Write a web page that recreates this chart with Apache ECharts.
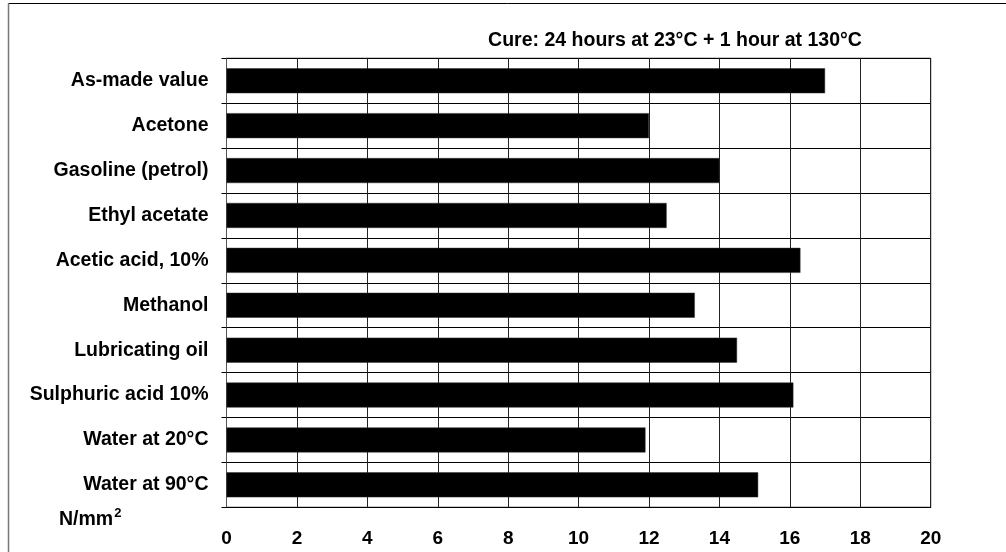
<!DOCTYPE html>
<html>
<head>
<meta charset="utf-8">
<script src="https://cdn.jsdelivr.net/npm/echarts@6/dist/echarts.min.js"></script>
<style>
html,body{margin:0;padding:0;background:#fff;}
#chart{width:1006px;height:552px;}
</style>
</head>
<body>
<div id="chart"></div>
<script>
const categories = ['As-made value','Acetone','Gasoline (petrol)','Ethyl acetate','Acetic acid, 10%','Methanol','Lubricating oil','Sulphuric acid 10%','Water at 20°C','Water at 90°C'];
const values = [17, 12, 14, 12.5, 16.3, 13.3, 14.5, 16.1, 11.9, 15.1];
const xTicks = [0, 2, 4, 6, 8, 10, 12, 14, 16, 18, 20];
const titleText = 'Cure: 24 hours at 23°C + 1 hour at 130°C';
const unitText = 'N/mm';

const FONT = 'Liberation Sans, Arial, sans-serif';
const chart = echarts.init(document.getElementById('chart'));
chart.setOption({
  animation: false,
  backgroundColor: '#fff',
  title: [{
    text: titleText,
    left: 670, top: 26, textAlign: 'center',
    textStyle: {fontFamily: FONT, fontWeight: 'bold', fontSize: 19.5, color: '#000'}
  }, {
    text: unitText + '{sup|2}',
    left: 54, top: 502,
    textStyle: {fontFamily: FONT, fontWeight: 'bold', fontSize: 19.5, color: '#000',
      rich: {sup: {fontFamily: FONT, fontWeight: 'bold', fontSize: 13, color: '#000', verticalAlign: 'top', padding: [0,0,12,1]}}}
  }],
  grid: {left: 226.5, right: 75.3, top: 58.3, bottom: 44.7, show: true, borderColor: '#000', borderWidth: 1},
  xAxis: {
    type: 'value', min: xTicks[0], max: xTicks[xTicks.length-1], interval: 2,
    axisLine: {show: true, lineStyle: {color: '#000'}},
    axisTick: {show: false},
    axisLabel: {margin: 22, fontFamily: FONT, fontWeight: 'bold', fontSize: 19, color: '#000'},
    splitLine: {show: true, lineStyle: {color: '#222', width: 1}}
  },
  yAxis: {
    type: 'category', data: categories, inverse: true,
    axisLine: {show: true, lineStyle: {color: '#555'}},
    axisTick: {show: true, length: 5, alignWithLabel: false, lineStyle: {color: '#000'}},
    axisLabel: {margin: 18, fontFamily: FONT, fontWeight: 'bold', fontSize: 19.5, color: '#000'},
    splitLine: {show: true, lineStyle: {color: '#000', width: 1}}
  },
  series: [{
    type: 'bar', data: values, barWidth: 25,
    itemStyle: {color: '#000', borderColor: '#333', borderWidth: 0.5}
  }],
  graphic: [
    {type: 'line', shape: {x1: 8.5, y1: 3.5, x2: 1006, y2: 3.5}, style: {stroke: '#000', lineWidth: 1}},
    {type: 'line', shape: {x1: 8.5, y1: 3.5, x2: 8.5, y2: 552}, style: {stroke: '#777', lineWidth: 1.5}}
  ]
});
</script>
</body>
</html>
